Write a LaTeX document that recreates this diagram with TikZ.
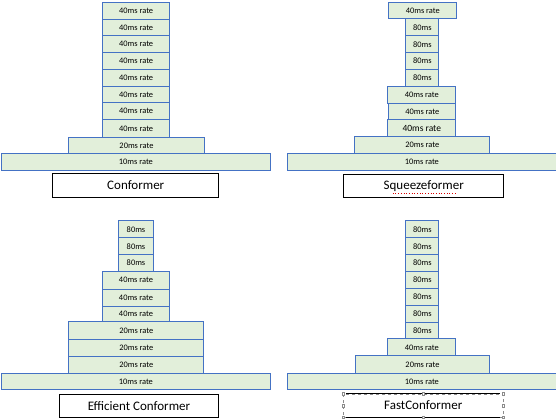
\documentclass[tikz,border=0pt]{standalone}
\usepackage{fontspec}
\setmainfont{Carlito}
\definecolor{boxfill}{HTML}{E2EFDA}
\definecolor{boxline}{HTML}{4472C4}
\definecolor{selgrey}{HTML}{8C8C8C}
\tikzset{
  blk/.style={draw=boxline, fill=boxfill, line width=1pt, inner sep=0pt,
    anchor=north west, font=\fontsize{8.4}{9}\selectfont},
  lbl/.style={draw=black, line width=0.9pt, fill=white, inner sep=0pt,
    anchor=north west, font=\fontsize{13}{15}\selectfont},
  handle/.style={draw=selgrey, fill=white, line width=0.4pt, inner sep=0pt,
    minimum size=2.5pt},
}
\newcommand\blkbox[7][]{\node[blk, #1, minimum width={(#5-#3)*1pt}, minimum height={(#6-#4)*1pt}] (#2) at (#3,#4) {#7};}
\newcommand\lblbox[7][]{\node[lbl, #1, minimum width={(#5-#3)*1pt}, minimum height={(#6-#4)*1pt}] (#2) at (#3,#4) {#7};}
\begin{document}
\begin{tikzpicture}[x=1pt,y=-1pt]
\useasboundingbox (0,0) rectangle (556,418);
% ---------------- Conformer ----------------
\blkbox{ca1}{102}{1.7}{169.3}{19}{40ms rate}
\blkbox{ca2}{102}{19}{169.3}{35.3}{40ms rate}
\blkbox{ca3}{102}{35.3}{169.3}{52}{40ms rate}
\blkbox{ca4}{102}{52}{169.3}{69}{40ms rate}
\blkbox{ca5}{102}{69}{169.3}{86}{40ms rate}
\blkbox{ca6}{102}{86}{169.3}{101.7}{40ms rate}
\blkbox{ca7}{102}{101.7}{169.3}{119}{40ms rate}
\blkbox{ca8}{102}{119}{169.3}{136.7}{40ms rate}
\blkbox{cb}{68.3}{136.7}{203.7}{153.3}{20ms rate}
\blkbox{cc}{0.5}{153.3}{270.3}{170.3}{10ms rate}
\lblbox{cl}{52.3}{173.3}{218.3}{196.7}{Conformer}
% ---------------- Squeezeformer ----------------
\blkbox{sa}{388.3}{1.7}{456.3}{18.3}{40ms rate}
\blkbox{sb1}{405.3}{18.3}{438.3}{35.3}{80ms}
\blkbox{sb2}{405.3}{35.3}{438.3}{52.3}{80ms}
\blkbox{sb3}{405.3}{52.3}{438.3}{69}{80ms}
\blkbox{sb4}{405.3}{69}{438.3}{85.7}{80ms}
\blkbox{sc1}{387.3}{85.7}{455.3}{103}{40ms rate}
\blkbox{sc2}{388.3}{103}{455.3}{119}{40ms rate}
\blkbox[font=\fontsize{9.5}{10}\selectfont]{sc3}{387.3}{119}{455.3}{136.3}{40ms rate}
\blkbox{sd}{354.3}{136.3}{489.3}{153}{20ms rate}
\blkbox{se}{287.3}{153}{555.5}{170.3}{10ms rate}
\lblbox{sl}{343.3}{174}{503.3}{196.7}{Squeezeformer}
\draw[red!85!black, line width=0.7pt, dotted] ([xshift=-31pt,yshift=-7.5pt]sl.center) -- ([xshift=32pt,yshift=-7.5pt]sl.center);
% ---------------- Efficient Conformer ----------------
\blkbox{ea1}{118.3}{220.3}{152.7}{237.3}{80ms}
\blkbox{ea2}{118.3}{237.3}{152.7}{254.3}{80ms}
\blkbox{ea3}{118.3}{254.3}{152.7}{270.7}{80ms}
\blkbox{eb1}{101.7}{270.7}{169.3}{288.7}{40ms rate}
\blkbox{eb2}{101.7}{288.7}{169.3}{305.7}{40ms rate}
\blkbox{eb3}{101.7}{305.7}{169.3}{321.3}{40ms rate}
\blkbox{ec1}{68.3}{321.3}{203.3}{339.3}{20ms rate}
\blkbox{ec2}{68.3}{339.3}{203.3}{355.7}{20ms rate}
\blkbox{ec3}{68.3}{355.7}{203.3}{372.7}{20ms rate}
\blkbox{ed}{0.5}{372.7}{270.3}{389.3}{10ms rate}
\lblbox{el}{58.7}{394.3}{218.3}{416.7}{Efficient Conformer}
% ---------------- FastConformer ----------------
\blkbox{fa1}{405.3}{220.3}{438.3}{237.3}{80ms}
\blkbox{fa2}{405.3}{237.3}{438.3}{254.3}{80ms}
\blkbox{fa3}{405.3}{254.3}{438.3}{271}{80ms}
\blkbox{fa4}{405.3}{271}{438.3}{288}{80ms}
\blkbox{fa5}{405.3}{288}{438.3}{304.7}{80ms}
\blkbox{fa6}{405.3}{304.7}{438.3}{321.7}{80ms}
\blkbox{fa7}{405.3}{321.7}{438.3}{338.3}{80ms}
\blkbox{fb}{387.3}{338.3}{455.3}{355.3}{40ms rate}
\blkbox{fc}{354.7}{355.3}{489.3}{372.7}{20ms rate}
\blkbox{fd}{287.3}{372.7}{555.5}{389.3}{10ms rate}
\node[anchor=north west, inner sep=0pt, minimum width=159.4pt, minimum height=23pt,
  draw=selgrey, dashed, line width=0.5pt, font=\fontsize{13}{15}\selectfont] (fl) at (343.3,393.7) {FastConformer};
\draw[black, line width=0.9pt] ([xshift=3pt]fl.north west) -- ([xshift=-3pt]fl.north east);
\draw[black, line width=0.9pt] ([xshift=3pt]fl.south west) -- ([xshift=-3pt]fl.south east);
\foreach \a in {north west,north,north east,east,south east,south,south west,west}
  \node[handle] at (fl.\a) {};
\end{tikzpicture}
\end{document}
